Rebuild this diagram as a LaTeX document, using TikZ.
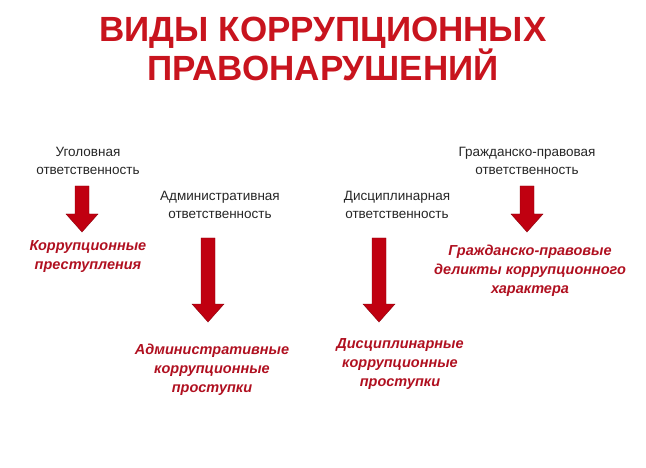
\documentclass[tikz,border=0pt]{standalone}
\usepackage{fontspec}
\setmainfont{Liberation Sans}
\definecolor{tred}{HTML}{C8141E}
\definecolor{ared}{HTML}{C00010}
\definecolor{lred}{HTML}{B01020}
\newcommand\blockarrow[3]{% x, ytop, ybottom
  \fill[ared,draw=ared!70!black] (#1-7,#2) -- (#1+7,#2) -- (#1+7,#3-18) -- (#1+16,#3-18) -- (#1,#3) -- (#1-16,#3-18) -- (#1-7,#3-18) -- cycle;}
\begin{document}
\begin{tikzpicture}[x=1pt,y=-1pt,
  resp/.style={align=center,font=\fontsize{13.5}{18.5}\selectfont,text=black!85},
  kind/.style={align=center,font=\fontsize{14.5}{19}\selectfont\bfseries\itshape,text=lred}]
\useasboundingbox (0,0) rectangle (646,468);
\node (title)[font=\fontsize{35}{39}\selectfont\bfseries,text=tred,align=center] at (323,49) {ВИДЫ КОРРУПЦИОННЫХ\\ПРАВОНАРУШЕНИЙ};
\node (r1)[resp] at (88,161) {Уголовная\\ответственность};
\node (r2)[resp] at (220,205) {Административная\\ответственность};
\node (r3)[resp] at (397,205) {Дисциплинарная\\ответственность};
\node (r4)[resp] at (527,161) {Гражданско-правовая\\ответственность};
\node (k1)[kind] at (88,257) {Коррупционные\\преступления};
\node (k2)[kind] at (212,370) {Административные\\коррупционные\\проступки};
\node (k3)[kind] at (400,364) {Дисциплинарные\\коррупционные\\проступки};
\node (k4)[kind] at (530,271) {Гражданско-правовые\\деликты коррупционного\\характера};
\blockarrow{82}{186}{232}
\blockarrow{208}{238}{322}
\blockarrow{379}{238}{322}
\blockarrow{527}{186}{232}
\end{tikzpicture}
\end{document}
